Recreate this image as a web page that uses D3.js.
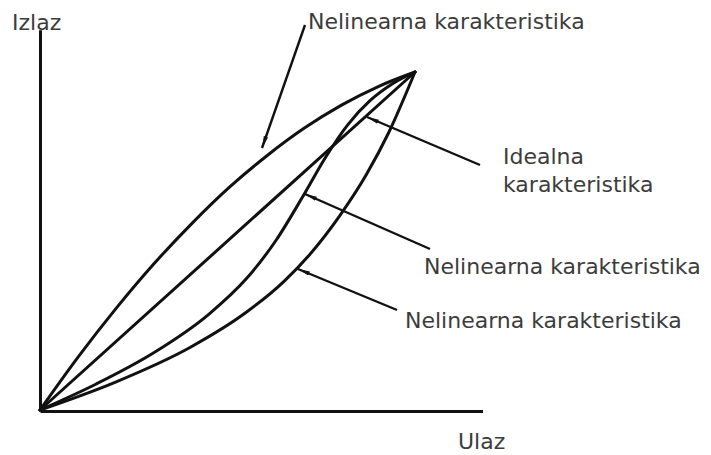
<!DOCTYPE html>
<html>
<head>
<meta charset="utf-8">
<script src="https://cdn.jsdelivr.net/npm/d3@7"></script>
<style>
  html, body { margin: 0; padding: 0; background: #fff; }
  svg { display: block; }
  text { font-family: "DejaVu Sans", Verdana, sans-serif; fill: #3c3c3c; }
</style>
</head>
<body>
<svg id="chart" width="711" height="455"></svg>
<script>
// ---- data (input = Ulaz, output = Izlaz; both in % of full scale) ----
const axisLabels = { x: "Ulaz", y: "Izlaz" };
const seriesNames = ["Nelinearna karakteristika", "Idealna karakteristika", "Nelinearna karakteristika", "Nelinearna karakteristika"];

const upperCurveX = [0, 10.2, 20.4, 30.5, 40.6, 50.6, 60.6, 70.5, 80.4, 90.2, 100];
const upperCurveY = [0, 15.7, 30.2, 43.4, 55.3, 66.0, 75.3, 83.4, 90.2, 95.7, 100];

const idealX = [0, 100];
const idealY = [0, 100];

const middleCurveX = [0, 15, 30, 45, 55, 63, 70, 76, 82, 88, 94, 100];
const middleCurveY = [0, 7.7, 16.7, 28.3, 38.8, 50.3, 63.0, 74.5, 84.3, 91.5, 96.5, 100];

const lowerCurveX = [0, 20, 40, 55, 65, 72, 80, 87, 93, 100];
const lowerCurveY = [0, 8.2, 18.5, 28.9, 38.0, 46.1, 57.6, 69.6, 82.1, 100];

const xAxisMax = 118;
const yAxisMax = 112.5;

// ---- layout ----
const svg = d3.select("#chart");
const x = d3.scaleLinear().domain([0, 100]).range([40, 415]);
const y = d3.scaleLinear().domain([0, 100]).range([410, 72]);

const zip = (xs, ys) => xs.map((v, i) => [v, ys[i]]);
const curves = [
  zip(upperCurveX, upperCurveY),
  zip(idealX, idealY),
  zip(middleCurveX, middleCurveY),
  zip(lowerCurveX, lowerCurveY)
];

// arrow marker
svg.append("defs").append("marker")
  .attr("id", "arrow")
  .attr("viewBox", "0 -3 12 6")
  .attr("refX", 12).attr("refY", 0)
  .attr("markerWidth", 12).attr("markerHeight", 6)
  .attr("markerUnits", "userSpaceOnUse")
  .attr("orient", "auto")
  .append("path").attr("d", "M0,-2.2L12,0L0,2.2Z").attr("fill", "#111");

// axes (no ticks)
const xAxisScale = d3.scaleLinear().domain([0, xAxisMax]).range([x(0), x(xAxisMax)]);
const yAxisScale = d3.scaleLinear().domain([0, yAxisMax]).range([y(0), y(yAxisMax)]);

const gx = svg.append("g").attr("transform", `translate(0,${y(0) + 1})`)
  .call(d3.axisBottom(xAxisScale).tickValues([]).tickSizeOuter(0));
const gy = svg.append("g").attr("transform", `translate(${x(0)},0)`)
  .call(d3.axisLeft(yAxisScale).tickValues([]).tickSizeOuter(0));
[gx, gy].forEach(g => g.select(".domain").attr("stroke", "#111").attr("stroke-width", 3));

// curves
const line = d3.line().x(d => x(d[0])).y(d => y(d[1])).curve(d3.curveMonotoneX);
svg.append("g").selectAll("path").data(curves).join("path")
  .attr("d", line)
  .attr("fill", "none")
  .attr("stroke", "#111")
  .attr("stroke-width", 3)
  .attr("stroke-linejoin", "round")
  .attr("stroke-linecap", "round");

// leader lines (from label to curve)
const leaders = [
  { from: [305, 25], to: [262, 148] },
  { from: [480, 165], to: [367, 117] },
  { from: [430, 249], to: [305, 194] },
  { from: [397, 310], to: [298, 269] }
];
svg.append("g").selectAll("line").data(leaders).join("line")
  .attr("x1", d => d.from[0]).attr("y1", d => d.from[1])
  .attr("x2", d => d.to[0]).attr("y2", d => d.to[1])
  .attr("stroke", "#111").attr("stroke-width", 2.4)
  .attr("marker-end", "url(#arrow)");

// texts
const fs = 22;
const texts = [
  { t: axisLabels.y, x: 12, y: 30 },
  { t: axisLabels.x, x: 458, y: 449 },
  { t: seriesNames[0], x: 308, y: 29 },
  { t: "Idealna", x: 503, y: 164 },
  { t: "karakteristika", x: 503, y: 192 },
  { t: seriesNames[2], x: 424, y: 274 },
  { t: seriesNames[3], x: 405, y: 328 }
];
svg.append("g").selectAll("text").data(texts).join("text")
  .attr("x", d => d.x).attr("y", d => d.y)
  .attr("font-size", fs)
  .text(d => d.t);
</script>
</body>
</html>
